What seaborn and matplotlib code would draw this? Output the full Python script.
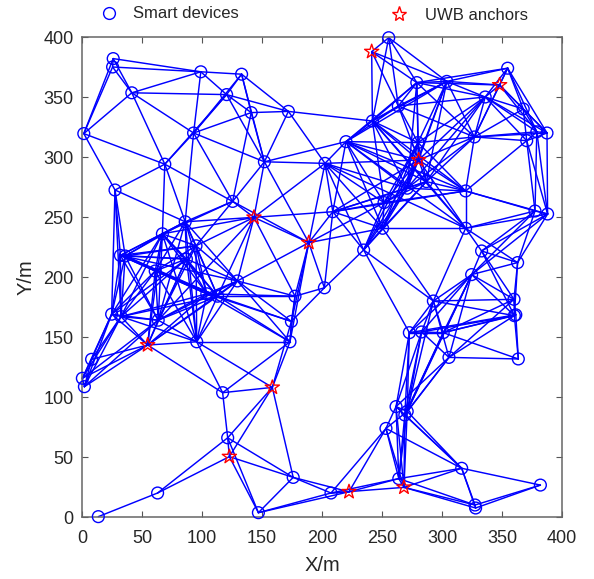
import matplotlib
matplotlib.use('Agg')
import pandas as pd
import seaborn as sns
import matplotlib.pyplot as plt
from matplotlib.lines import Line2D

# smart device positions
device_x = [26, 25.5, 41.5, 99, 133, 120.5, 141, 172, 1.5, 93, 69, 152, 27.5, 125.5, 86, 67, 95, 32, 36, 87,
            61, 113, 104, 129.5, 24.7, 32.5, 63.5, 95.6, 173.3, 174.5, 177.5, 202, 8, 0.3, 2, 117.2, 121.4, 176, 63, 13.6,
            147, 207.5, 264, 316.4, 382, 327.5, 328, 253.3, 261.7, 271, 269, 305.8, 272.8, 283, 301, 292.8, 360, 360.3, 361.5, 363.6,
            324.7, 363, 333, 319.7, 250.5, 234.7, 209, 251.7, 271, 287, 319.7, 377.5, 388, 202.5, 220, 242, 263.6, 280, 327, 370.6,
            387.5, 379, 367.7, 336, 354.7, 304, 279, 255.6]
device_y = [382, 375, 353.5, 371, 369, 352, 337, 338, 319.5, 320, 294, 296, 272.5, 263, 246, 236, 226, 218, 217.5, 215,
            205, 184, 186, 196.7, 169, 167, 164, 146, 146, 163, 184, 191, 131.4, 115.6, 108.6, 103.6, 66, 33, 20, 0.3,
            3.6, 20, 32, 40.6, 26.6, 10, 7.5, 73.8, 92, 88, 85, 133, 153.6, 154.2, 153.6, 180, 181.4, 167.8, 168.5, 131.7,
            202, 212, 221.7, 240.6, 240.6, 222.5, 254.4, 262, 274, 279.5, 271.7, 255, 252.5, 294.7, 312.8, 330, 342.5, 312, 316.7, 313.6,
            320, 321, 340, 350, 374, 363, 362, 399.4]

# anchors continue the numbering: 88 to 97
anchor_x = [241.4, 348, 280.5, 143.3, 189, 54.7, 158.6, 122.8, 222.5, 268.3]
anchor_y = [387.8, 360, 297.5, 249.7, 228.6, 143.3, 108, 50.3, 21, 24.7]

ticks = [0, 50, 100, 150, 200, 250, 300, 350, 400]

# which node is linked to which
links = {
    0: [1, 2, 3, 8], 1: [2, 3, 8], 2: [3, 5, 8, 9, 10], 3: [4, 5, 9], 4: [5, 6, 7, 9, 11],
    5: [6, 7, 9, 10, 11], 6: [7, 9, 11, 13], 7: [11, 73, 75], 8: [10, 12], 9: [10, 11, 13, 14],
    10: [12, 13, 14, 15], 11: [13, 73, 74, 91, 92], 12: [14, 17, 18, 24, 25],
    13: [14, 15, 16, 91, 92], 14: [15, 16, 19, 20, 21, 22, 23, 26, 27, 91],
    15: [16, 18, 19, 20, 21, 22, 24, 25, 26, 27, 91, 93], 16: [19, 20, 21, 22, 23, 26, 27, 91],
    17: [14, 15, 16, 18, 19, 20, 21, 22, 23, 24, 25, 26],
    18: [14, 16, 19, 20, 21, 22, 24, 25, 26],
    19: [20, 21, 22, 23, 24, 25, 26, 27, 93], 20: [21, 22, 24, 25, 26, 27, 93],
    21: [22, 23, 25, 26, 27, 28, 29, 30, 91, 93], 22: [23, 25, 26, 27, 29, 30, 28, 93],
    23: [26, 27, 28, 29, 30, 91, 92, 93], 24: [25, 26, 32, 33, 34, 93],
    25: [26, 27, 32, 33, 34, 93], 26: [27, 33, 34, 91, 93], 27: [28, 35, 93, 94],
    28: [29, 30, 35, 92, 94], 29: [30, 31, 92, 94], 30: [31, 91, 92], 31: [65, 66, 92],
    32: [33, 34, 93], 33: [34, 93], 34: [93], 35: [36, 93, 94], 36: [37, 38, 40, 94, 95],
    37: [40, 41, 94, 95, 96], 38: [39, 95], 40: [41, 95, 96],
    41: [42, 47, 96, 97], 42: [43, 45, 47, 48, 49, 50, 96, 97], 43: [44, 45, 46, 47, 48, 49, 50, 97],
    44: [45, 46], 45: [46, 97], 46: [97], 47: [48, 49, 96, 97],
    48: [49, 50, 51, 52, 53, 97], 49: [50, 51, 52, 53, 54, 55, 60, 97], 50: [51, 52, 53, 54, 60, 97],
    51: [53, 55, 56, 57, 59, 60], 52: [53, 54, 55, 58, 60, 65], 53: [54, 55, 57, 60],
    54: [55, 56, 57, 58, 59, 60], 55: [56, 57, 60, 63, 64, 65], 56: [57, 58, 60, 61, 62],
    57: [58, 59, 60, 61, 62], 58: [59], 60: [61, 62, 71, 72], 61: [62, 63, 71, 72],
    62: [63, 71, 72], 63: [64, 69, 70, 71, 72, 73, 74, 75, 90],
    64: [65, 66, 67, 68, 69, 73, 74, 77, 90, 92], 65: [66, 67, 68, 69, 73, 77, 90],
    66: [67, 68, 69, 70, 73, 74, 90, 91, 92], 67: [68, 69, 70, 73, 74, 75, 77, 90, 92],
    68: [69, 70, 73, 74, 75, 77, 78, 83, 85, 86, 90], 69: [70, 74, 75, 77, 78, 83, 85, 90],
    70: [71, 72, 74, 75, 77, 78, 79, 90], 71: [72, 79, 81], 72: [79, 80, 81],
    73: [74, 90, 91, 92], 74: [75, 76, 77, 85, 86, 90], 75: [76, 77, 85, 86, 87, 88, 90],
    76: [77, 78, 83, 85, 86, 87, 88, 90], 77: [78, 83, 85, 86, 90],
    78: [79, 80, 81, 82, 83, 84, 85, 86, 89, 90], 79: [80, 81, 82, 83],
    80: [81, 82, 83, 84, 89], 81: [82, 83, 84, 89], 82: [83, 84, 89], 83: [84, 85, 86, 89, 90],
    84: [85, 86, 89], 85: [86, 87, 88, 89, 90], 86: [87, 88, 89, 90], 87: [88], 91: [92],
    94: [95, 36],
}

node_x = device_x + anchor_x
node_y = device_y + anchor_y

rows = []
seen = set()
for a, others in links.items():
    for b in others:
        key = (min(a, b), max(a, b))
        if key in seen:
            continue
        seen.add(key)
        rows.append({'edge': len(seen), 'x': node_x[a], 'y': node_y[a]})
        rows.append({'edge': len(seen), 'x': node_x[b], 'y': node_y[b]})
edges = pd.DataFrame(rows)

sns.set_style('ticks')
plt.rcParams['font.family'] = ['Liberation Sans', 'DejaVu Sans']

fig = plt.figure(figsize=(5.94, 5.79), dpi=100)
ax = fig.add_axes([82 / 594, 1 - 517 / 579, 480 / 594, 480 / 579])

sns.lineplot(data=edges, x='x', y='y', units='edge', estimator=None, sort=False,
             color='#0000ff', linewidth=1.05, ax=ax, legend=False, clip_on=False, zorder=2)
sns.scatterplot(x=device_x, y=device_y, marker='o', s=72, color='none', edgecolor='#0000ff',
                linewidth=1.0, ax=ax, clip_on=False, zorder=3)
sns.scatterplot(x=anchor_x, y=anchor_y, marker='*', s=115, color='none', edgecolor='#ff0000',
                linewidth=1.0, ax=ax, clip_on=False, zorder=4)

ax.set_xlim(0, 400)
ax.set_ylim(0, 400)
ax.set_xticks(ticks)
ax.set_yticks(ticks)
ax.tick_params(direction='in', length=4, width=0.8, top=True, right=True, color='#555555',
               labelsize=13, labelcolor='#262626')
ax.tick_params(axis='x', pad=9.5)
ax.tick_params(axis='y', pad=6)
for side in ax.spines.values():
    side.set_linewidth(1.1)
    side.set_color('#666666')
ax.set_xlabel('X/m', fontsize=14.5, color='#262626', labelpad=6.5)
ax.set_ylabel('Y/m', fontsize=14.5, color='#262626', labelpad=5.5)

# two separate legend pieces above the axes
dev_handle = Line2D([], [], marker='o', ls='', ms=8.5, mfc='none', mec='#0000ff', mew=1.0)
anc_handle = Line2D([], [], marker='*', ls='', ms=11, mfc='none', mec='#ff0000', mew=1.0)
fig.legend(handles=[dev_handle], labels=['Smart devices'], loc='center left', frameon=False,
           bbox_to_anchor=(92.3 / 594, 1 - 14 / 579), fontsize=12, labelcolor='#262626',
           handletextpad=0.45, borderpad=0, borderaxespad=0)
fig.legend(handles=[anc_handle], labels=['UWB anchors'], loc='center left', frameon=False,
           bbox_to_anchor=(382.3 / 594, 1 - 15 / 579), fontsize=12, labelcolor='#262626',
           handletextpad=0.55, borderpad=0, borderaxespad=0)

fig.savefig('out.png', dpi=100)
